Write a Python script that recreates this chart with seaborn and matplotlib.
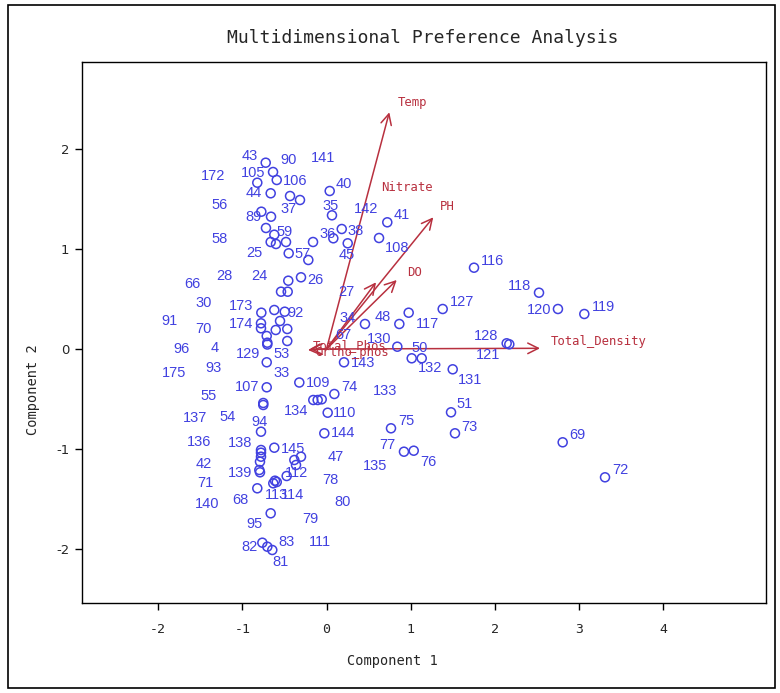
import matplotlib
matplotlib.use("Agg")
import matplotlib.pyplot as plt
import seaborn as sns
import pandas as pd
from matplotlib.patches import Rectangle

# Observation scores on the first two principal components
comp1 = [-0.722, -0.635, -0.822, -0.591, -0.663, -0.433, -0.315, -0.774, -0.659, -0.719,
         -0.620, -0.663, -0.600, -0.481, -0.160, -0.449, -0.216, 0.038, 0.065, 0.181,
         0.081, 0.252, 0.624, 0.722, -0.303, -0.454, -0.540, -0.461, -0.774, -0.620,
         -0.496, -0.778, -0.778, -0.552, -0.603, -0.466, -0.710, -0.703, -0.703, -0.466,
         -0.710, -0.323, -0.710, -0.751, -0.751, -0.157, -0.105, -0.057, 0.093, 0.014,
         -0.026, -0.778, -0.778, -0.778, -0.778, -0.790, -0.798, -0.790, -0.620, -0.382,
         -0.303, -0.362, -0.473, -0.612, -0.591, -0.632, -0.822, -0.663, -0.762, -0.703,
         -0.644, 0.457, 0.865, 0.976, 1.380, 0.841, 1.012, 1.131, 1.499, 0.208,
         1.752, 2.524, 2.749, 3.062, 2.140, 2.171, 1.479, 1.526, 0.766, 0.920,
         1.036, 2.805, 3.308]
comp2 = [1.863, 1.770, 1.663, 1.690, 1.557, 1.530, 1.490, 1.373, 1.323, 1.210,
         1.143, 1.070, 1.050, 1.070, 1.070, 0.957, 0.890, 1.580, 1.337, 1.200,
         1.107, 1.057, 1.110, 1.267, 0.717, 0.683, 0.573, 0.573, 0.363, 0.390,
         0.373, 0.257, 0.207, 0.280, 0.190, 0.200, 0.130, 0.063, 0.045, 0.080,
         -0.133, -0.335, -0.383, -0.540, -0.560, -0.510, -0.510, -0.503, -0.450, -0.637,
         -0.843, -0.827, -1.010, -1.037, -1.077, -1.127, -1.210, -1.233, -0.987, -1.110,
         -1.077, -1.160, -1.270, -1.317, -1.330, -1.343, -1.393, -1.643, -1.937, -1.977,
         -2.010, 0.250, 0.250, 0.363, 0.400, 0.023, -0.093, -0.093, -0.203, -0.133,
         0.813, 0.563, 0.400, 0.350, 0.057, 0.047, -0.633, -0.843, -0.793, -1.027,
         -1.017, -0.933, -1.283]

# Observation ids and where each id label sits in component space
obs_ids = ["43", "90", "141", "172", "105", "106", "40", "44", "56", "37",
           "35", "142", "41", "89", "59", "58", "36", "38", "108", "25",
           "57", "45", "28", "24", "26", "66", "27", "116", "118", "30",
           "173", "127", "120", "119", "91", "92", "34", "48", "117", "174",
           "70", "67", "128", "130", "96", "4", "50", "129", "53", "121",
           "143", "132", "93", "175", "33", "131", "109", "107", "74", "133",
           "55", "51", "134", "110", "137", "54", "75", "94", "73", "69",
           "144", "136", "138", "77", "145", "47", "76", "42", "135", "72",
           "139", "112", "78", "71", "113", "114", "68", "80", "140", "79",
           "95", "83", "111", "82", "81"]
label_c1 = [-0.909, -0.451, -0.045, -1.348, -0.873, -0.374, 0.208, -0.861, -1.265, -0.449,
            0.053, 0.469, 0.888, -0.869, -0.493, -1.265, 0.010, 0.350, 0.841, -0.861,
            -0.283, 0.240, -1.217, -0.802, -0.137, -1.589, 0.240, 1.974, 2.290, -1.463,
            -1.015, 1.606, 2.520, 3.287, -1.859, -0.374, 0.247, 0.667, 1.197, -1.019,
            -1.463, 0.200, 1.900, 0.627, -1.720, -1.324, 1.110, -0.929, -0.532, 1.922,
            0.430, 1.229, -1.344, -1.811, -0.532, 1.710, -0.097, -0.948, 0.271, 0.695,
            -1.404, 1.639, -0.356, 0.220, -1.562, -1.173, 0.944, -0.790, 1.698, 2.983,
            0.200, -1.514, -1.027, 0.727, -0.401, 0.113, 1.209, -1.463, 0.576, 3.486,
            -1.027, -0.354, 0.042, -1.443, -0.588, -0.401, -1.019, 0.192, -1.416, -0.196,
            -0.861, -0.481, -0.077, -0.909, -0.544]
label_c2 = [1.930, 1.890, 1.907, 1.735, 1.760, 1.680, 1.650, 1.560, 1.440, 1.400,
            1.430, 1.397, 1.343, 1.317, 1.170, 1.100, 1.150, 1.183, 1.010, 0.957,
            0.950, 0.940, 0.730, 0.730, 0.695, 0.647, 0.573, 0.883, 0.630, 0.463,
            0.433, 0.473, 0.390, 0.417, 0.280, 0.357, 0.313, 0.317, 0.247, 0.247,
            0.197, 0.140, 0.130, 0.097, -0.003, 0.007, 0.007, -0.053, -0.053, -0.060,
            -0.137, -0.193, -0.193, -0.243, -0.243, -0.315, -0.343, -0.380, -0.377, -0.417,
            -0.470, -0.555, -0.617, -0.637, -0.687, -0.677, -0.717, -0.727, -0.777, -0.860,
            -0.843, -0.927, -0.937, -0.960, -1.000, -1.083, -1.127, -1.153, -1.170, -1.210,
            -1.243, -1.243, -1.310, -1.337, -1.460, -1.460, -1.510, -1.527, -1.553, -1.700,
            -1.750, -1.933, -1.933, -1.977, -2.127]

# Variable loadings (arrow tips) and their label anchors
var_names = ["Temp", "PH", "Nitrate", "DO", "Total_Density", "Total_Phos", "Ortho_phos"]
var_c1 = [0.746, 1.268, 0.588, 0.834, 2.536, -0.196, -0.220]
var_c2 = [2.367, 1.317, 0.667, 0.690, 0.007, 0.000, -0.010]
var_label_c1 = [1.027, 1.439, 0.960, 1.051, 2.666, 0.279, 0.303]
var_label_c2 = [2.463, 1.423, 1.617, 0.763, 0.070, 0.030, -0.035]

x_ticks = [-2, -1, 0, 1, 2, 3, 4]
y_ticks = [-2, -1, 0, 1, 2]

BLUE = "#4141E0"
RED = "#B8303F"

sns.set_style("ticks")
plt.rcParams["font.family"] = ["DejaVu Sans"]

fig = plt.figure(figsize=(7.8, 6.93), dpi=100)
ax = fig.add_axes([82 / 780, 90 / 693, 684 / 780, 541 / 693])

scores = pd.DataFrame({"Component 1": comp1, "Component 2": comp2})
sns.scatterplot(data=scores, x="Component 1", y="Component 2", ax=ax,
                marker="o", s=42, facecolor="none", edgecolor=BLUE,
                linewidth=1.1, zorder=3, legend=False)

for txt, lx, ly in zip(obs_ids, label_c1, label_c2):
    ax.text(lx, ly, txt, ha="center", va="center", color=BLUE,
            fontsize=10.5, family="Liberation Sans", zorder=4)

for name, tx, ty, lx, ly in zip(var_names, var_c1, var_c2, var_label_c1, var_label_c2):
    ax.annotate("", xy=(tx, ty), xytext=(0, 0),
                arrowprops=dict(arrowstyle="->", color=RED, lw=1.1,
                                mutation_scale=19, shrinkA=0, shrinkB=0),
                zorder=2)
    ha = "left" if name == "Total_Density" else "center"
    ax.text(lx, ly, name, ha=ha, va="center", color=RED,
            fontsize=8.8, family="DejaVu Sans Mono", zorder=4)

ax.set_xlim(-2.904, 5.220)
ax.set_ylim(-2.54, 2.87)
ax.set_xticks(x_ticks)
ax.set_yticks(y_ticks)
ax.set_xticklabels([str(v) for v in x_ticks], family="DejaVu Sans Mono", fontsize=9.5)
ax.set_yticklabels([str(v) for v in y_ticks], family="DejaVu Sans", fontsize=9.5)
ax.tick_params(axis="x", direction="out", length=5, width=1, pad=9.5, color="black")
ax.tick_params(axis="y", direction="out", length=5, width=1, pad=4, color="black")
ax.set_xlabel("")
ax.set_ylabel("")
for sp in ax.spines.values():
    sp.set_visible(True)
    sp.set_color("black")
    sp.set_linewidth(1.0)

fig.text(423 / 780, 1 - 38 / 693, "Multidimensional Preference Analysis",
         ha="center", va="center", family="DejaVu Sans Mono", fontsize=13)
fig.text(392 / 780, 1 - 661 / 693, "Component 1", ha="center", va="center",
         family="DejaVu Sans Mono", fontsize=9.8)
fig.text(33 / 780, 1 - 390 / 693, "Component 2", ha="center", va="center",
         rotation=90, family="DejaVu Sans Mono", fontsize=9.8)

# Outer frame around the whole graphic
fig.patches.append(Rectangle((8 / 780, 5 / 693), 767 / 780, 683 / 693,
                             transform=fig.transFigure, fill=False,
                             edgecolor="black", linewidth=1.2))

fig.savefig("out.png", dpi=100, facecolor="white")
